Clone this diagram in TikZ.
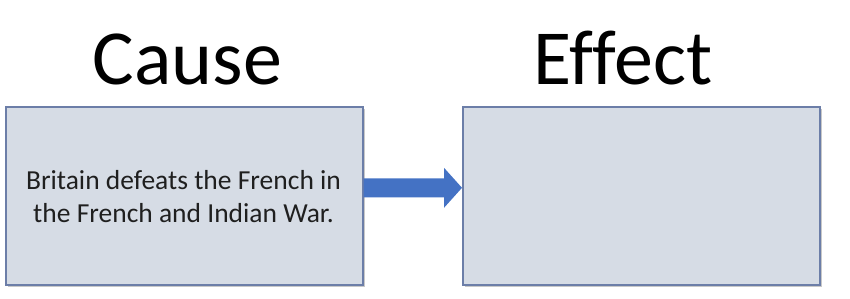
\documentclass[tikz,border=0pt]{standalone}
\usepackage{fontspec}
\setmainfont{Carlito}[Ligatures=NoCommon]
\usetikzlibrary{calc}
\definecolor{boxfill}{RGB}{214,220,229}
\definecolor{boxline}{RGB}{108,126,168}
\definecolor{arrowblue}{RGB}{68,114,196}
\definecolor{shade}{RGB}{200,200,200}
\begin{document}
\begin{tikzpicture}[x=1pt,y=-1pt,
  box/.style={draw=boxline, line width=1.6pt, fill=boxfill, minimum width=357pt, minimum height=178pt, inner sep=0pt, anchor=north west},
  shadowbox/.style={fill=shade, minimum width=357pt, minimum height=178pt, inner sep=0pt, anchor=north west},
  title/.style={font=\fontsize{78}{80}\selectfont, inner sep=0pt, anchor=base},
  body/.style={font=\fontsize{27.5}{33}\selectfont, align=center, inner sep=0pt, text=black!88}]
\useasboundingbox (0,0) rectangle (850,299);
\node[shadowbox] (Ls) at (7.5,108.5) {};
\node[shadowbox] (Rs) at (464.5,108.5) {};
\node[box] (L) at (5,106) {};
\node[box] (R) at (462,106) {};
\node[title] (cause) at (187.5,85) {Cause};
\node[title] (effect) at (623,85) {Effect};
\node[body] (txt) at (183.5,197) {Britain defeats the French in\\the French and Indian War.};
\path (L.east) ++(0,-8) coordinate (as);
\path (R.west) ++(0,-8) coordinate (ae);
\fill[arrowblue] ($(as)+(0,-9.5)$) -- ($(ae)+(-18,-9.5)$) -- ($(ae)+(-18,-20)$) -- (ae)
  -- ($(ae)+(-18,20)$) -- ($(ae)+(-18,9.5)$) -- ($(as)+(0,9.5)$) -- cycle;
\end{tikzpicture}
\end{document}
